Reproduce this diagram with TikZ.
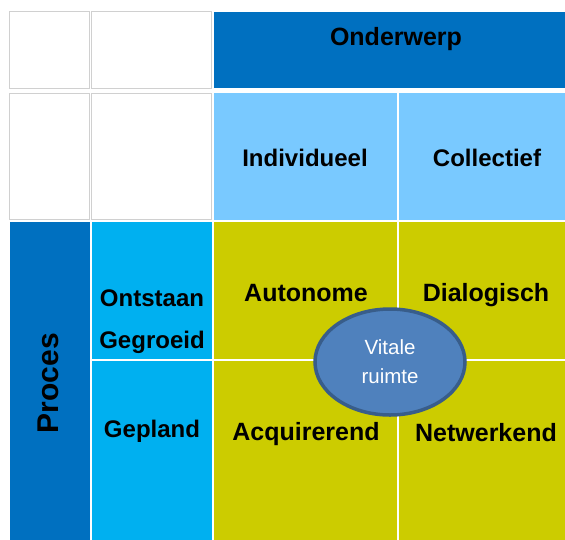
\documentclass[tikz,border=0pt]{standalone}
\usepackage{fontspec}
\setmainfont{Liberation Sans}
\usetikzlibrary{shapes.geometric}

\definecolor{donkerblauw}{HTML}{0070C0}
\definecolor{lichtblauw}{HTML}{79C9FF}
\definecolor{cyaan}{HTML}{00B0F0}
\definecolor{olijf}{HTML}{CCCC00}
\definecolor{ovaal}{HTML}{4F81BD}
\definecolor{ovaalrand}{HTML}{385D8A}
\definecolor{grijs}{HTML}{D0D0D0}

\tikzset{
	kop/.style={font=\bfseries\fontsize{24}{28}\selectfont, text=black, inner sep=0pt},
	groot/.style={kop, font=\bfseries\fontsize{25}{28}\selectfont},
	leeg/.style={draw=grijs, line width=0.8pt, fill=white},
}

\begin{document}
\begin{tikzpicture}[x=1pt, y=-1pt]
	\useasboundingbox (0,0) rectangle (565,539);

	% lege hoek
	\foreach \xa/\xb in {9.5/89.5, 91.5/211.5}
		\foreach \ya/\yb in {11.5/88, 93/219.5}
			\draw[leeg] (\xa,\ya) rectangle (\xb,\yb);

	\fill[donkerblauw] (213.5,11.5) rectangle (580,88);
	\foreach \xa/\xb in {213.5/397, 399/580}
		\fill[lichtblauw] (\xa,93) rectangle (\xb,219.5);

	\fill[donkerblauw] (9.5,221.5) rectangle (89.5,550);
	\foreach \ya/\yb in {221.5/359, 361/550} {
		\fill[cyaan] (91.5,\ya) rectangle (211.5,\yb);
		\foreach \xa/\xb in {213.5/397, 399/580}
			\fill[olijf] (\xa,\ya) rectangle (\xb,\yb);
	}

	\node[groot, anchor=base] (onderwerp) at (396,45) {Onderwerp};
	\node[kop, anchor=base] (individueel) at (305,166) {Individueel};
	\node[kop, anchor=base] (collectief) at (487,166) {Collectief};

	\node[kop, font=\bfseries\fontsize{30}{36}\selectfont, rotate=90, anchor=base] (proces) at (58,383) {Proces};
	\node[kop, align=center, font=\bfseries\fontsize{24}{42}\selectfont] (ontstaan) at (152,322) {Ontstaan\\Gegroeid};
	\node[kop, anchor=base] (gepland) at (152,437) {Gepland};

	\node[groot, anchor=base] (autonome) at (306,301) {Autonome};
	\node[groot, anchor=base] (dialogisch) at (486,301) {Dialogisch};
	\node[groot, anchor=base] (acquirerend) at (306,440) {Acquirerend};
	\node[groot, anchor=base] (netwerkend) at (486,441) {Netwerkend};

	\node[ellipse, draw=ovaalrand, line width=3.5pt, fill=ovaal, minimum width=150, minimum height=106,
		inner sep=0pt, text=white, align=center, font=\fontsize{20.5}{29}\selectfont] (vitaal) at (390,362) {Vitale\\ruimte};
\end{tikzpicture}
\end{document}
